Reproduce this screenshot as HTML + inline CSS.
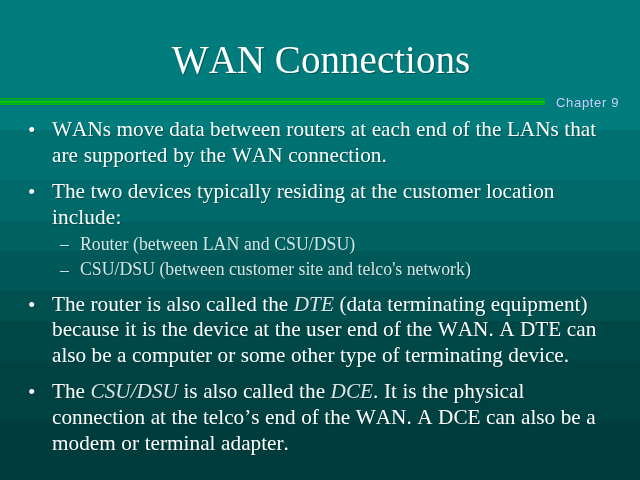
<!DOCTYPE html>
<html><head><meta charset="utf-8">
<style>
html,body{margin:0;padding:0;}
body{width:640px;height:480px;overflow:hidden;position:relative;background:#007c7c;font-family:"Liberation Serif",serif;color:#fff;font-kerning:none;}
.bg{position:absolute;left:0;width:640px;}
.t{position:absolute;white-space:nowrap;text-shadow:1px 1px 0 rgba(0,45,45,0.45);will-change:transform;}
.title{font-size:39.1px;left:0.6px;width:640px;text-align:center;top:37.3px;line-height:46px;}
.b{font-size:21.25px;line-height:26px;left:52.2px;}
.s{color:rgba(255,255,255,0.84);text-shadow:1px 1px 0 rgba(0,45,45,0.3);font-size:17.78px;line-height:22px;left:80px;}
.dot{will-change:transform;position:absolute;left:27.5px;font-size:21.33px;line-height:26px;text-shadow:1px 1px 0 rgba(0,45,45,0.45);}
.dash{will-change:transform;position:absolute;left:60px;font-size:17.78px;line-height:22px;color:rgba(255,255,255,0.84);text-shadow:1px 1px 0 rgba(0,45,45,0.3);}
.ch{position:absolute;font-family:"Liberation Sans",sans-serif;font-size:13px;letter-spacing:0.68px;will-change:transform;color:#ccccff;left:556px;top:95px;line-height:16px;white-space:nowrap;}
i{color:rgba(255,255,255,0.86);}
</style></head><body>
<div class="bg" style="top:0px;height:130px;background:#007c7c"></div>
<div class="bg" style="top:130px;height:50px;background:#007070"></div>
<div class="bg" style="top:180px;height:41px;background:#006a6a"></div>
<div class="bg" style="top:221px;height:30px;background:#006161"></div>
<div class="bg" style="top:251px;height:39px;background:#005858"></div>
<div class="bg" style="top:290px;height:31px;background:#005050"></div>
<div class="bg" style="top:321px;height:40px;background:#004848"></div>
<div class="bg" style="top:361px;height:60px;background:#004242"></div>
<div class="bg" style="top:421px;height:59px;background:#003c3c"></div>
<div class="bar" style="position:absolute;left:0;top:97px;width:545px;height:9px;background:linear-gradient(#00727c 0 1px,#00be0f 1px 2px,#008c5a 2px 3px,#009a46 3px 4px,#00cc00 4px 5px,#00c305 5px 6px,#00a52d 6px 7px,#00be0a 7px 8px,#006e78 8px 9px)"></div>
<div class="t title" id="title">WAN Connections</div>
<div class="ch" id="ch">Chapter 9</div>
<div class="dot" style="top:117px">•</div>
<div class="t b" id="l1" style="top:116px;word-spacing:0.173px">WANs move data between routers at each end of the LANs that</div>
<div class="t b" id="l2" style="top:142px;word-spacing:0.380px">are supported by the WAN connection.</div>
<div class="dot" style="top:178.6px">•</div>
<div class="t b" id="l3" style="top:178px;word-spacing:0.113px">The two devices typically residing at the customer location</div>
<div class="t b" id="l4" style="top:204px;letter-spacing:0.125px">include:</div>
<div class="dash" style="top:233px">–</div>
<div class="t s" id="l5" style="top:233px;word-spacing:0.200px">Router (between LAN and CSU/DSU)</div>
<div class="dash" style="top:259px">–</div>
<div class="t s" id="l6" style="top:258px;word-spacing:-0.034px">CSU/DSU (between customer site and telco's network)</div>
<div class="dot" style="top:292px">•</div>
<div class="t b" id="l7" style="top:291px;word-spacing:0.167px">The router is also called the <i>DTE</i> (data terminating equipment)</div>
<div class="t b" id="l8" style="top:316px;word-spacing:0.143px">because it is the device at the user end of the WAN. A DTE can</div>
<div class="t b" id="l9" style="top:342px;word-spacing:0.080px">also be a computer or some other type of terminating device.</div>
<div class="dot" style="top:379.4px">•</div>
<div class="t b" id="l10" style="top:378px;word-spacing:0.200px">The <i>CSU/DSU</i> is also called the <i>DCE</i>. It is the physical</div>
<div class="t b" id="l11" style="top:404px;word-spacing:0.146px">connection at the telco’s end of the WAN. A DCE can also be a</div>
<div class="t b" id="l12" style="top:430px;word-spacing:0.300px">modem or terminal adapter.</div>
</body></html>
